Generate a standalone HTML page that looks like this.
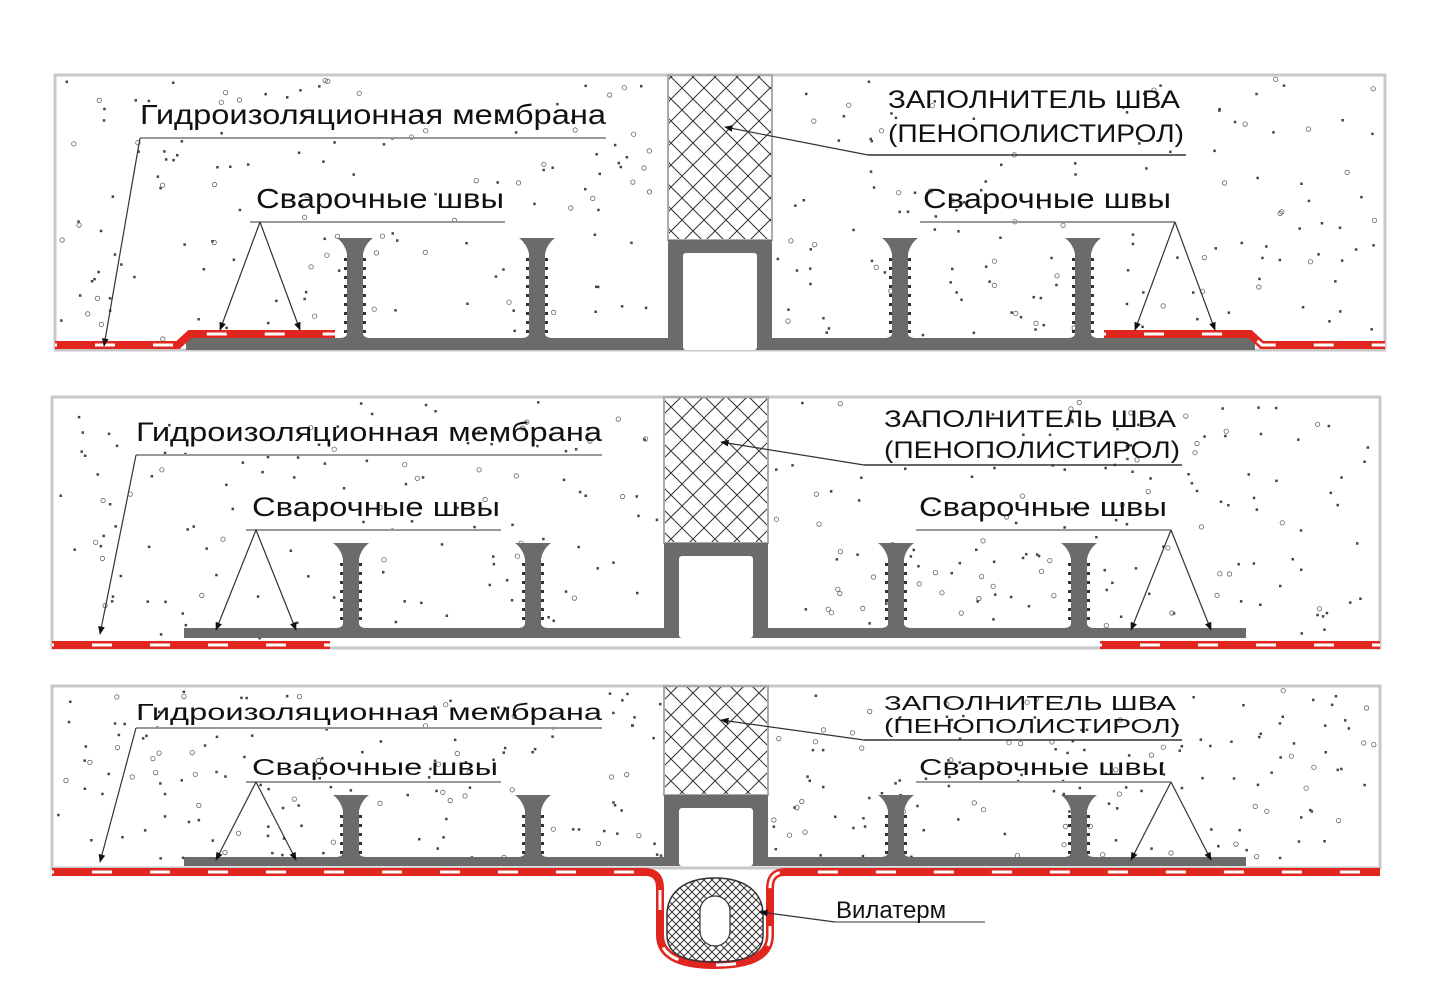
<!DOCTYPE html>
<html><head><meta charset="utf-8"><style>
html,body{margin:0;padding:0;background:#fff;width:1456px;height:1008px;overflow:hidden}
svg{display:block}
text{font-family:"Liberation Sans","DejaVu Sans",sans-serif;fill:#111}
</style></head><body>
<svg id="s" width="1456" height="1008" viewBox="0 0 1456 1008" xmlns="http://www.w3.org/2000/svg">
<defs>
<pattern id="hx" width="22" height="22" patternUnits="userSpaceOnUse">
<path d="M0 0L22 22M22 0L0 22" stroke="#333" stroke-width="1"/>
</pattern>
<pattern id="hx2" width="8" height="8" patternUnits="userSpaceOnUse">
<path d="M0 0L8 8M8 0L0 8" stroke="#333" stroke-width="1"/>
</pattern>
<marker id="ar" viewBox="0 0 10 10" refX="9" refY="5" markerWidth="7" markerHeight="7" orient="auto"><path d="M0 1L10 5L0 9z" fill="#111"/></marker>
</defs>
<g id="g"></g>
</svg>
<script>
var out='';
var seed=7;function rnd(){seed=(seed*16807)%2147483647;return seed/2147483647;}
function panel(o){
 var dx=o.dx;
 out+='<rect x="'+o.x0+'" y="'+o.top+'" width="'+(o.x1-o.x0)+'" height="'+(o.bot-o.top)+'" fill="#fff" stroke="#c8c8c8" stroke-width="3"/>';
 for(var i=0;i<320;i++){var x=o.x0+5+rnd()*(o.x1-o.x0-10),y=o.top+4+rnd()*(o.bot-o.top-14);
  if(x>664+dx&&x<776+dx)continue;
  if(rnd()<0.25)out+='<circle cx="'+x.toFixed(1)+'" cy="'+y.toFixed(1)+'" r="2.2" fill="none" stroke="#666" stroke-width="0.8"/>';
  else out+='<rect x="'+x.toFixed(1)+'" y="'+y.toFixed(1)+'" width="2.5" height="2.5" fill="#444"/>';}
 out+='<rect x="'+(668+dx)+'" y="'+o.top+'" width="104" height="'+(o.boxTop-o.top)+'" fill="url(#hx)" stroke="#aaa" stroke-width="2"/>';
 out+='<rect x="'+o.fx0+'" y="'+o.bt+'" width="'+(o.fx1-o.fx0)+'" height="'+(o.bb-o.bt)+'" fill="#6b6b6b"/>';
 out+='<rect x="'+(668+dx)+'" y="'+o.boxTop+'" width="104" height="'+(o.bb-o.boxTop)+'" fill="#6b6b6b"/>';
 out+='<rect x="'+(683+dx)+'" y="'+(o.boxTop+13)+'" width="74" height="'+(o.bb-o.boxTop-13)+'" fill="#fff" rx="3"/>';
 [355,537,900,1083].forEach(function(c){c+=dx;var t=o.ribTop;
  out+='<path d="M'+(c-18)+' '+t+'H'+(c+18)+'Q'+(c+10)+' '+(t+6)+' '+(c+8)+' '+(t+16)+'V'+(o.bt-4)+'Q'+(c+9)+' '+o.bt+' '+(c+16)+' '+o.bt+'H'+(c-16)+'Q'+(c-9)+' '+o.bt+' '+(c-8)+' '+(o.bt-4)+'V'+(t+16)+'Q'+(c-10)+' '+(t+6)+' '+(c-18)+' '+t+'Z" fill="#6b6b6b"/>';
  for(var yy=t+20;yy<o.bt-4;yy+=9){out+='<rect x="'+(c-11)+'" y="'+yy+'" width="3" height="3" fill="#333"/><rect x="'+(c+8)+'" y="'+yy+'" width="3" height="3" fill="#333"/>';}
 });
 o.red.forEach(function(r){
  out+='<path d="'+r+'" fill="none" stroke="#e0261e" stroke-width="8"/>';
  out+='<path d="'+r+'" fill="none" stroke="#fff" stroke-width="3" stroke-dasharray="20 38" stroke-dashoffset="-40"/>';
 });
 var L='stroke="#333" stroke-width="1.2"';
 out+='<text x="'+(140+dx)+'" y="'+o.my+'" font-size="'+o.fs+'" textLength="'+o.mw+'" lengthAdjust="spacingAndGlyphs">Гидроизоляционная мембрана</text>';
 out+='<line x1="'+(140+dx)+'" y1="'+o.mu+'" x2="'+(606+dx)+'" y2="'+o.mu+'" stroke="#999" stroke-width="2"/>';
 out+='<line x1="'+(140+dx)+'" y1="'+o.mu+'" x2="'+(104+dx)+'" y2="'+(o.bb-4)+'" '+L+' marker-end="url(#ar)"/>';
 out+='<text x="'+(888+dx)+'" y="'+o.zy1+'" font-size="'+o.zfs+'" textLength="292" lengthAdjust="spacingAndGlyphs">ЗАПОЛНИТЕЛЬ  ШВА</text>';
 out+='<text x="'+(888+dx)+'" y="'+o.zy2+'" font-size="'+o.zfs+'" textLength="296" lengthAdjust="spacingAndGlyphs">(ПЕНОПОЛИСТИРОЛ)</text>';
 out+='<line x1="'+(868+dx)+'" y1="'+o.zu+'" x2="'+(1186+dx)+'" y2="'+o.zu+'" stroke="#333" stroke-width="1.5"/>';
 out+='<line x1="'+(868+dx)+'" y1="'+o.zu+'" x2="'+(725+dx)+'" y2="'+o.za+'" '+L+' marker-end="url(#ar)"/>';
 out+='<text x="'+(256+dx)+'" y="'+o.sy+'" font-size="'+o.fs+'" textLength="'+o.sw+'" lengthAdjust="spacingAndGlyphs">Сварочные швы</text>';
 out+='<text x="'+(923+dx)+'" y="'+o.sy+'" font-size="'+o.fs+'" textLength="'+o.sw+'" lengthAdjust="spacingAndGlyphs">Сварочные швы</text>';
 out+='<line x1="'+(250+dx)+'" y1="'+o.su+'" x2="'+(505+dx)+'" y2="'+o.su+'" stroke="#999" stroke-width="2"/>';
 out+='<line x1="'+(920+dx)+'" y1="'+o.su+'" x2="'+(1175+dx)+'" y2="'+o.su+'" stroke="#999" stroke-width="2"/>';
 [[260,220],[260,300],[1175,1135],[1175,1215]].forEach(function(p){
  out+='<line x1="'+(p[0]+dx)+'" y1="'+o.su+'" x2="'+(p[1]+dx)+'" y2="'+o.wy+'" '+L+' marker-end="url(#ar)"/>';});
}
panel({dx:0,x0:55,x1:1385,top:75,bot:350,boxTop:240,ribTop:238,bt:338,bb:350,fx0:186,fx1:1255,
 red:['M55 345H178L190 334H335','M1104 334H1250L1262 345H1385'],
 my:124,fs:28,mw:466,mu:138,zy1:108,zy2:142,zfs:25,zu:155,za:127,sy:208,sw:248,su:222,wy:330});
panel({dx:-4,x0:52,x1:1380,top:397,bot:648,boxTop:543,ribTop:543,bt:628,bb:638,fx0:184,fx1:1246,
 red:['M52 645H330','M1100 645H1380'],
 my:441,fs:27,mw:466,mu:455,zy1:427,zy2:458,zfs:24,zu:465,za:442,sy:516,sw:248,su:530,wy:630});
panel({dx:-4,x0:52,x1:1380,top:686,bot:868,boxTop:795,ribTop:795,bt:857,bb:866,fx0:184,fx1:1246,
 red:['M52 872H645Q660 872 660 888V935Q660 965 715 965Q770 965 770 935V888Q770 872 785 872H1380'],
 my:720,fs:23,mw:466,mu:728,zy1:710,zy2:733,zfs:20,zu:740,za:720,sy:775,sw:246,su:782,wy:860});
out+='<path d="M715 878C745 878 763 892 763 915V935C763 955 745 962 715 962C685 962 667 955 667 935V915C667 892 685 878 715 878Z" fill="url(#hx2)" stroke="#333" stroke-width="1.5"/>';
out+='<rect x="700" y="896" width="30" height="50" rx="15" fill="#fff" stroke="#333" stroke-width="1.2"/>';
out+='<line x1="835" y1="922" x2="760" y2="912" stroke="#333" stroke-width="1.2" marker-end="url(#ar)"/>';
out+='<line x1="835" y1="922" x2="985" y2="922" stroke="#999" stroke-width="2"/>';
out+='<text x="836" y="918" font-size="24">Вилатерм</text>';
document.getElementById('g').innerHTML=out;
</script>
</body></html>
